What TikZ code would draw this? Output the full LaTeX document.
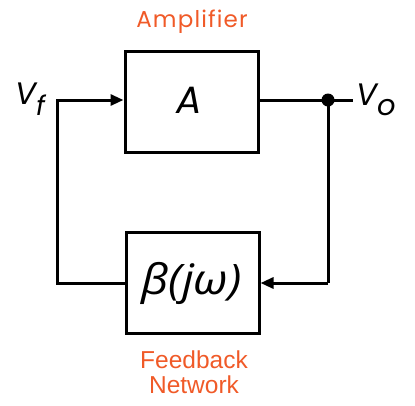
\documentclass[tikz,border=0pt]{standalone}
\usepackage{fontspec}
\setmainfont{Poppins}
\newfontfamily\greekfont{Open Sans}
\newfontfamily\amplfont[LetterSpace=5]{Poppins}
\newfontfamily\arialfont{Liberation Sans}
\usetikzlibrary{arrows.meta}
\definecolor{lbl}{HTML}{F05A28}
\begin{document}
\begin{tikzpicture}[x=1pt,y=-1pt,
  blk/.style={draw,line width=3pt,minimum width=133pt,minimum height=101pt,inner sep=0pt},
  wire/.style={line width=3pt},
  arr/.style={wire,-{Triangle[length=13pt,width=11pt]}},
  orange/.style={text=lbl,align=center,inner sep=0pt},
  sym/.style={font=\fontsize{38}{42}\selectfont\itshape}]
\useasboundingbox (0,0) rectangle (415,405);
\node[blk] (amp) at (191.5,101.5) {};
\node[sym,anchor=base] (atext) at (189,113) {A};
\node[blk] (fb) at (192.5,282.5) {};
\node[font=\fontsize{42}{44}\selectfont\greekfont\itshape] (btext) at (191.5,283.5) {\scalebox{1.12}[1]{β(jω)}};
\node[orange,anchor=base,font=\fontsize{23}{26}\selectfont\amplfont] (alabel) at (192,27) {Amplifier};
\node[orange,anchor=base,font=\fontsize{24.5}{26}\selectfont\arialfont] (flabel1) at (194,368) {Feedback};
\node[orange,anchor=base,font=\fontsize{24.5}{26}\selectfont\arialfont] (flabel2) at (194,393) {Network};
\coordinate (lt) at (57,100);
\coordinate (lb) at (57,283);
\coordinate (rt) at (328,100);
\coordinate (rb) at (328,283);
\coordinate (vo) at (353,100);
\draw[wire] (amp.east |- rt) -- (vo);
\draw[wire] (rt) -- (rb);
\draw[arr] (rb) -- (fb.east |- rb);
\draw[wire] (fb.west |- lb) -- (lb) -- (lt) -- ++(-1.5,0);
\draw[arr] (lt) -- (amp.west |- lt);
\fill (rt) circle (6.5);
\node[anchor=base west,inner sep=0pt,font=\fontsize{31}{34}\selectfont\itshape] (vf) at (15,104) {V\raisebox{-11pt}{\fontsize{27}{29}\selectfont f}};
\node[anchor=base west,inner sep=0pt,font=\fontsize{31}{34}\selectfont\itshape] (vov) at (356,105) {V\raisebox{-10pt}{\fontsize{29}{31}\selectfont o}};
\end{tikzpicture}
\end{document}
